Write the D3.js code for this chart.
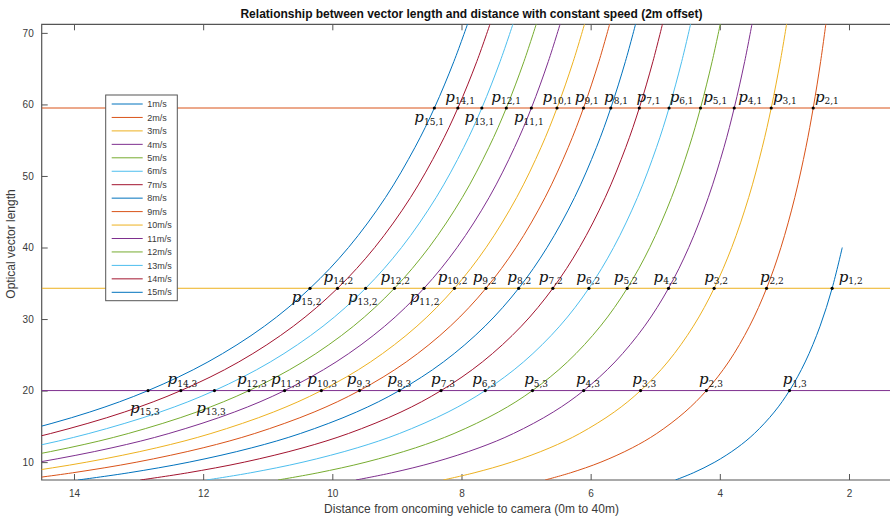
<!DOCTYPE html>
<html><head><meta charset="utf-8">
<script src="https://cdn.jsdelivr.net/npm/d3@7"></script>
<style>body{margin:0;background:#fff;} svg{display:block;}</style>
</head><body>
<svg id="chart" width="890" height="520"></svg>
<script>
// ---------------- DATA ----------------
const speeds = [1,2,3,4,5,6,7,8,9,10,11,12,13,14,15];
const legendLabels = ["1m/s","2m/s","3m/s","4m/s","5m/s","6m/s","7m/s","8m/s","9m/s","10m/s","11m/s","12m/s","13m/s","14m/s","15m/s"];
// optical vector length levels at which each curve's distance was read
const levels = [7.5, 8.5, 10, 12, 14, 17, 20, 24, 29, 34.3, 40, 47, 54, 59.5, 66, 72];
// distance (x) at which each speed curve reaches the corresponding level
const distances = [
  [4.687, 4.411, 4.077, 3.733, 3.465, 3.157, 2.921, 2.678, 2.448, 2.261, 2.104],
  [6.705, 6.314, 5.841, 5.355, 4.977, 4.541, 4.208, 3.864, 3.540, 3.276, 3.054, 2.839, 2.667, 2.554, 2.439, 2.347],
  [8.283, 7.805, 7.226, 6.631, 6.169, 5.635, 5.227, 4.807, 4.410, 4.088, 3.816, 3.553, 3.343, 3.204, 3.064, 2.952],
  [9.635, 9.083, 8.415, 7.728, 7.195, 6.579, 6.108, 5.624, 5.166, 4.794, 4.481, 4.178, 3.936, 3.777, 3.615, 3.486],
  [10.842, 10.225, 9.479, 8.711, 8.115, 7.427, 6.901, 6.360, 5.849, 5.434, 5.085, 4.747, 4.477, 4.299, 4.119, 3.975],
  [11.947, 11.270, 10.454, 9.614, 8.961, 8.208, 7.632, 7.040, 6.480, 6.027, 5.645, 5.275, 4.980, 4.786, 4.590, 4.433],
  [12.973, 12.243, 11.361, 10.454, 9.750, 8.937, 8.316, 7.677, 7.073, 6.585, 6.173, 5.774, 5.456, 5.247, 5.036, 4.867],
  [13.938, 13.158, 12.216, 11.247, 10.494, 9.626, 8.962, 8.280, 7.636, 7.114, 6.675, 6.249, 5.910, 5.688, 5.462, 5.282],
  [14.853, 14.026, 13.027, 12.000, 11.202, 10.282, 9.579, 8.856, 8.173, 7.621, 7.155, 6.705, 6.347, 6.111, 5.872, 5.682],
  [15.726, 14.855, 13.802, 12.720, 11.880, 10.911, 10.170, 9.409, 8.690, 8.109, 7.619, 7.145, 6.768, 6.521, 6.270, 6.070],
  [16.564, 15.650, 14.547, 13.412, 12.531, 11.516, 10.739, 9.942, 9.189, 8.580, 8.068, 7.572, 7.178, 6.918, 6.656, 6.447],
  [17.370, 16.416, 15.264, 14.080, 13.160, 12.100, 11.290, 10.458, 9.673, 9.038, 8.504, 7.987, 7.576, 7.306, 7.033, 6.815],
  [18.149, 17.156, 15.958, 14.726, 13.770, 12.667, 11.825, 10.960, 10.144, 9.484, 8.928, 8.392, 7.965, 7.685, 7.402, 7.175],
  [18.904, 17.874, 16.632, 15.354, 14.362, 13.219, 12.345, 11.449, 10.603, 9.919, 9.344, 8.788, 8.346, 8.056, 7.763, 7.529],
  [19.638, 18.572, 17.287, 15.965, 14.939, 13.756, 12.853, 11.926, 11.051, 10.345, 9.750, 9.176, 8.720, 8.420, 8.118, 7.876]
];
// horizontal reference lines (rows 1, 2, 3 of the p_{v,k} points)
const refLevels = [59.5, 34.3, 20];
const refRows = [1, 2, 3];
const xTicks = [14, 12, 10, 8, 6, 4, 2];
const yTicks = [10, 20, 30, 40, 50, 60, 70];
const titleText = "Relationship between vector length and distance with constant speed (2m offset)";
const xLabelText = "Distance from oncoming vehicle to camera (0m to 40m)";
const yLabelText = "Optical vector length";

// ---------------- STYLE / LAYOUT ----------------
const palette = ["#0072BD","#D95319","#EDB120","#7E2F8E","#77AC30","#4DBEEE","#A2142F"];
const colorOf = i => palette[i % palette.length];
// label placement per row: [speed, side (a = above, b = below), dx from point]
const labelLayout = [
  [[15,'b',-20],[14,'a',-12.6],[13,'b',-17.3],[12,'a',-15],[11,'b',-17.4],[10,'a',-14.4],[9,'a',-8.7],[8,'a',-6.7],[7,'a',-2.7],[6,'a',0.6],[5,'a',2.7],[4,'a',4],[3,'a',1.7],[2,'a',1.7]],
  [[15,'b',-18.3],[14,'a',-14],[13,'b',-17.7],[12,'a',-14],[11,'b',-14.3],[10,'a',-16.7],[9,'a',-13.3],[8,'a',-11.4],[7,'a',-14],[6,'a',-12.6],[5,'a',-13.4],[4,'a',-15],[3,'a',-10],[2,'a',-6.7],[1,'a',6.6]],
  [[15,'b',-18],[14,'a',-13.3],[13,'b',-18.3],[12,'a',-12],[11,'a',-13.6],[10,'a',-14],[9,'a',-12.7],[8,'a',-12],[7,'a',-10],[6,'a',-13],[5,'a',-8.3],[4,'a',-7.7],[3,'a',-8.3],[2,'a',-7.4],[1,'a',-6.7]]
];
const belowDy = [14, 14, 22];
const aboveDy = -6.5;

const pLeft = 41.7, pRight = 892, pTop = 24.3, pBottom = 480;
const svg = d3.select("#chart");
const x = d3.scaleLinear().domain([14.5, 1.334]).range([pLeft, pRight]);
const y = d3.scaleLinear().domain([7.5, 71.2]).range([pBottom, pTop]);

svg.append("defs").append("clipPath").attr("id", "clip")
  .append("rect").attr("x", pLeft).attr("y", pTop).attr("width", pRight - pLeft).attr("height", pBottom - pTop);

const axisColor = "#555";
const textColor = "#3a3a3a";
const sans = "'Liberation Sans', Arial, sans-serif";

// axes (ticks inward)
const gy = svg.append("g").attr("transform", `translate(${pLeft},0)`)
  .call(d3.axisLeft(y).tickValues(yTicks).tickSizeInner(-6).tickSizeOuter(0).tickPadding(8));
const gx = svg.append("g").attr("transform", `translate(0,${pBottom})`)
  .call(d3.axisBottom(x).tickValues(xTicks).tickSizeInner(-6).tickSizeOuter(0).tickPadding(9.5));
const gt = svg.append("g").attr("transform", `translate(0,${pTop})`)
  .call(d3.axisTop(x).tickValues(xTicks).tickSizeInner(-6).tickSizeOuter(0).tickFormat(""));
[gx, gy, gt].forEach(g => {
  g.select(".domain").remove();
  g.selectAll(".tick line").attr("stroke", axisColor);
  g.selectAll(".tick text").attr("fill", textColor).style("font-family", sans).style("font-size", "10px");
});

// box
svg.append("path")
  .attr("d", `M${pRight},${pTop}H${pLeft}V${pBottom}H${pRight}`)
  .attr("fill", "none").attr("stroke", axisColor).attr("stroke-width", 1.2);

const plot = svg.append("g").attr("clip-path", "url(#clip)");

// curves
const line = d3.line().x(p => x(p[0])).y(p => y(p[1])).curve(d3.curveCatmullRom.alpha(0.5));
speeds.forEach((v, i) => {
  const pts = distances[i].map((d, j) => [d, levels[j]]);
  plot.append("path").attr("d", line(pts)).attr("fill", "none")
    .attr("stroke", colorOf(i)).attr("stroke-width", 1);
});

// reference horizontal lines
refLevels.forEach((lv, k) => {
  plot.append("line").attr("x1", pLeft).attr("x2", pRight).attr("y1", y(lv)).attr("y2", y(lv))
    .attr("stroke", colorOf(speeds.length + k)).attr("stroke-width", 1);
});

// points and labels
refLevels.forEach((lv, k) => {
  const idx = levels.indexOf(lv);
  labelLayout[k].forEach(([v, side, dx]) => {
    const d = distances[v - 1][idx];
    if (d === undefined) return;
    const px = x(d), py = y(lv);
    svg.append("circle").attr("cx", px).attr("cy", py).attr("r", 1.6).attr("fill", "#000");
    const ty = side === 'a' ? py + aboveDy : py + belowDy[k];
    const t = svg.append("text").attr("x", px + dx).attr("y", ty).attr("fill", "#111")
      .style("font-family", "'DejaVu Serif', serif");
    t.append("tspan").text("p").style("font-style", "italic").style("font-size", "15px");
    t.append("tspan").text(v + "," + refRows[k]).style("font-size", "9px").attr("dy", 2.5);
  });
});

// legend
const lg = svg.append("g").attr("transform", "translate(105.7,95)");
lg.append("rect").attr("width", 71.6).attr("height", 205.7).attr("fill", "#fff")
  .attr("stroke", "#555").attr("stroke-width", 1);
legendLabels.forEach((lab, i) => {
  const yy = 9 + i * 13.45;
  lg.append("line").attr("x1", 6).attr("x2", 37).attr("y1", yy).attr("y2", yy)
    .attr("stroke", colorOf(i)).attr("stroke-width", 1);
  lg.append("text").attr("x", 41.6).attr("y", yy).attr("dy", "0.35em").text(lab)
    .attr("fill", textColor).style("font-family", sans).style("font-size", "9px");
});

// title & axis labels
svg.append("text").attr("x", 471.5).attr("y", 17.5).attr("text-anchor", "middle").text(titleText)
  .attr("fill", "#111").style("font-family", sans).style("font-size", "12px").style("font-weight", "bold");
svg.append("text").attr("x", 471.5).attr("y", 512.5).attr("text-anchor", "middle").text(xLabelText)
  .attr("fill", textColor).style("font-family", sans).style("font-size", "12px");
svg.append("text").attr("transform", "translate(14.5,244) rotate(-90)").attr("text-anchor", "middle").text(yLabelText)
  .attr("fill", textColor).style("font-family", sans).style("font-size", "12px");
</script>
</body></html>
